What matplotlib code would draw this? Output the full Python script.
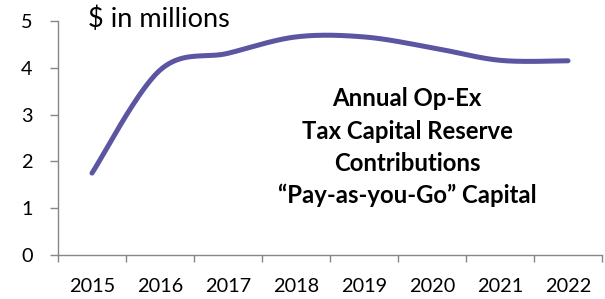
import numpy as np
import matplotlib
matplotlib.use("Agg")
import matplotlib.pyplot as plt

years = ["2015", "2016", "2017", "2018", "2019", "2020", "2021", "2022"]
values = [1.75, 3.95, 4.31, 4.66, 4.66, 4.43, 4.16, 4.15]
y_ticks = [0, 1, 2, 3, 4, 5]
title_text = "$ in millions"
note_lines = ["Annual Op-Ex", "Tax Capital Reserve", "Contributions", "\u201cPay-as-you-Go\u201d Capital"]

plt.rcParams['font.family'] = ['Lato', 'DejaVu Sans']
W, H = 605, 299

fig = plt.figure(figsize=(W/100, H/100), dpi=100)
renderer = fig.canvas.get_renderer()

def fit_size(s, target_w, **kw):
    fs = 14.0
    for _ in range(4):
        t = fig.text(0, 0, s, fontsize=fs, **kw)
        w = t.get_window_extent(renderer).width
        t.remove()
        fs = fs * target_w / w
    return fs

ax = fig.add_axes([58/W, 1-255/H, (602-58)/W, (255-21)/H])

# Smoothed line (Excel-like) drawn through the data points
x = np.arange(len(values), dtype=float)
y = np.array(values, dtype=float)
px = np.concatenate([[x[0]], x, [x[-1]]])
py = np.concatenate([[y[0]], y, [y[-1]]])
xs, ys = [], []
t = np.linspace(0, 1, 40)
for i in range(1, len(px) - 2):
    p0, p1, p2, p3 = (np.array([px[j], py[j]]) for j in (i-1, i, i+1, i+2))
    c1 = p1 + (p2 - p0) / 6
    c2 = p2 - (p3 - p1) / 6
    b = ((1-t)**3)[:, None]*p1 + (3*(1-t)**2*t)[:, None]*c1 + (3*(1-t)*t**2)[:, None]*c2 + (t**3)[:, None]*p2
    xs.extend(b[:, 0]); ys.extend(b[:, 1])
ax.plot(xs, ys, color="#5B55A2", lw=3.6, solid_capstyle="round", zorder=3)

ax.set_xlim(-0.5, len(years) - 0.5)
ax.set_ylim(0, 5)
ax.set_yticks(y_ticks)
ax.set_yticklabels([str(v) for v in y_ticks])

ax.set_xticks(np.arange(len(years) + 1) - 0.5)
ax.set_xticklabels([])
ax.set_xticks(np.arange(len(years)), minor=True)
ax.set_xticklabels(years, minor=True)

for s in ["top", "right"]:
    ax.spines[s].set_visible(False)
for s in ["left", "bottom"]:
    ax.spines[s].set_color("#868686")
    ax.spines[s].set_linewidth(1.0)

tick_fs = fit_size("2015", 46.5)
ax.tick_params(axis="y", which="major", direction="out", length=5.8, width=1.0,
               color="#868686", labelsize=tick_fs, pad=12.5, labelcolor="black")
ax.tick_params(axis="x", which="major", direction="out", length=5, width=1.0,
               color="#868686")
ax.tick_params(axis="x", which="minor", length=0, labelsize=tick_fs, pad=16.5, labelcolor="black")

title_fs = fit_size(title_text, 142)
fig.text(88/W, 1-27/H, title_text, fontsize=title_fs, ha="left", va="baseline")

note_fs = fit_size(note_lines[1], 210, fontweight="bold")
for i, line in enumerate(note_lines):
    fig.text(407/W, 1-(106.5 + i*32.3)/H, line, fontsize=note_fs, fontweight="bold",
             ha="center", va="baseline")

fig.savefig("out.png", dpi=100)
